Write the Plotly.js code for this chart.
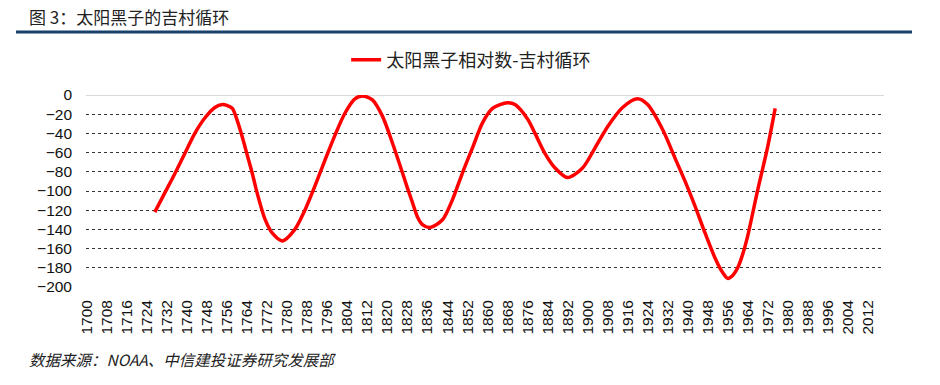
<!DOCTYPE html>
<html>
<head>
<meta charset="utf-8">
<script src="https://cdn.plot.ly/plotly-3.0.1.min.js"></script>
<style>html,body{margin:0;padding:0;background:#fff;}#chart{width:940px;height:385px;}</style>
</head>
<body>
<div id="chart"></div>
<script>
const years = [1727,1731,1735,1739,1743,1747,1751,1754,1756,1758,1760,1762,1764,1766,1768,1771,1774,1778,
  1783,1787,1791,1795,1799,1803,1807,1810,1814,1818,1822,1826,1828,1830,1832,1834,1837,1842,1846,1850,1854,
  1858,1862,1868,1871,1876,1879,1883,1887,1892,1898,1903,1908,1914,1920,1924,1930,1935,1939,1943,1947,
  1951,1954,1956,1958,1960,1962,1964,1968,1972,1975];
const values = [-122,-102,-82,-61,-40,-24,-13,-10,-11,-14,-27,-44,-63,-82,-103,-129,-144,-152,
  -140,-120,-95,-68,-42,-19,-4,-1,-5,-22,-50,-81,-97,-112,-127,-135,-138,-130,-109,-81,-55,
  -29,-14,-8,-10,-25,-40,-61,-76,-86,-76,-55,-33,-13,-4,-10,-36,-66,-90,-116,-144,
  -170,-185,-191,-188,-180,-166,-147,-99,-54,-14];
const tickYears = [];
for (let y = 1700; y <= 2012; y += 8) tickYears.push(y);
const seriesName = '太阳黑子相对数-吉村循环';
const chartTitle = '图 3：太阳黑子的吉村循环';
const sourceText = '数据来源：NOAA、中信建投证券研究发展部';

const cjk = '"Noto Sans CJK SC", "Liberation Sans", Arial, sans-serif';
const latin = '"Liberation Sans", Arial, sans-serif';
const trace = {
  x: years, y: values, type: 'scatter', mode: 'lines', name: seriesName,
  line: {color: '#FF0000', width: 3.5, shape: 'spline', smoothing: 0.8}
};
const layout = {
  width: 940, height: 385,
  margin: {l: 86, r: 56, t: 95, b: 98},
  paper_bgcolor: '#fff', plot_bgcolor: '#fff',
  showlegend: true,
  legend: {orientation: 'h', x: 0.326, xanchor: 'left', y: 1 + (95-60)/192, yanchor: 'middle',
    font: {family: cjk, size: 18, color: '#222'}},
  xaxis: {range: [1699.5, 2018.5], tickmode: 'array', tickvals: tickYears,
    ticktext: tickYears.map(String), tickangle: -90, showgrid: false, zeroline: false,
    showline: false, ticks: '', ticklabelstandoff: 9,
    tickfont: {family: latin, size: 15.5, color: '#111'}},
  yaxis: {range: [-200, 0], dtick: 20, showgrid: true, gridcolor: '#333', griddash: 'dot', gridwidth: 1,
    zeroline: true, zerolinecolor: '#D9D9D9', zerolinewidth: 1, showline: false, ticks: '',
    tickfont: {family: latin, size: 15.5, color: '#111'}, ticklabelstandoff: 13},
  shapes: [{type: 'line', xref: 'paper', yref: 'paper', x0: (16-86)/798, x1: (912-86)/798,
    y0: 1 + (95-32)/192, y1: 1 + (95-32)/192, line: {color: '#17406B', width: 3}}],
  annotations: [
    {text: chartTitle, xref: 'paper', yref: 'paper', x: (27-86)/798, y: 1 + (95-16)/192, xanchor: 'left', yanchor: 'middle',
      showarrow: false, font: {family: cjk, size: 17, color: '#222'}},
    {text: '<i>' + sourceText + '</i>', xref: 'paper', yref: 'paper', x: (27-86)/798, y: -(359-287)/192, xanchor: 'left', yanchor: 'middle',
      showarrow: false, font: {family: cjk, size: 15.5, color: '#222'}}
  ]
};
Plotly.newPlot('chart', [trace], layout, {displayModeBar: false, staticPlot: true});
</script>
</body>
</html>
